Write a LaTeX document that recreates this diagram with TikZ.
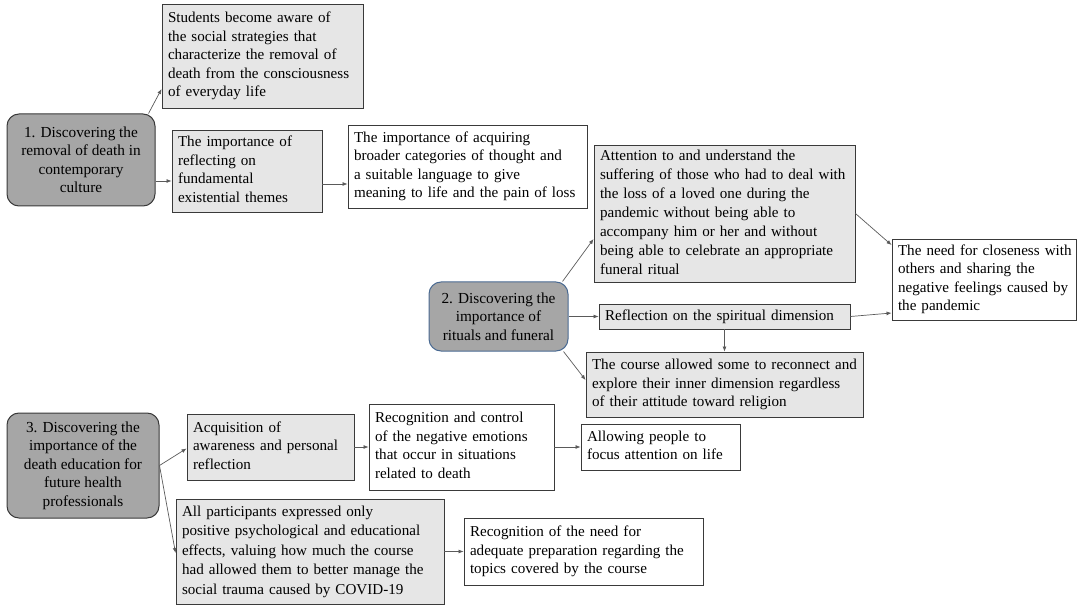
\documentclass[tikz,border=0pt]{standalone}
\usepackage{fontspec}
\setmainfont{Liberation Serif}
\usetikzlibrary{arrows.meta}
\definecolor{lightbox}{HTML}{E6E6E6}
\definecolor{darkbox}{HTML}{A6A6A6}
\definecolor{edgec}{HTML}{3A3A3A}
\definecolor{bluedge}{HTML}{4A6A92}
\definecolor{arrowc}{HTML}{5A5A5A}
\newcommand\lns[1]{{\let\\\tabularnewline\begin{tabular}{@{}l@{}}#1\end{tabular}}}
\begin{document}
\begin{tikzpicture}[x=1pt,y=-1pt,
  box/.style={draw=edgec, line width=0.9pt, inner xsep=6pt, inner ysep=0pt, font=\fontsize{15.1}{18.5}\selectfont},
  gbox/.style={box, fill=lightbox},
  wbox/.style={box, fill=white},
  topic/.style={draw=edgec, fill=darkbox, rounded corners=12pt, line width=1pt, align=center, inner sep=0pt, font=\fontsize{15.3}{18.5}\selectfont},
  conn/.style={draw=arrowc, line width=0.7pt, -{Latex[length=5pt,width=4pt]}}]
\useasboundingbox (0,0) rectangle (1084,612);

\node[gbox, minimum width=201pt, minimum height=104pt, text width=189pt] (A) at (262.5,56) {\lns{Students become aware of\\the social strategies that\\characterize the removal of\\death from the consciousness\\of everyday life}};
\node[topic, minimum width=148pt, minimum height=92pt] (n1) at (81,160) {1. Discovering the\\removal of death in\\contemporary\\culture};
\node[gbox, minimum width=150pt, minimum height=82pt, text width=138pt] (B) at (247,171) {\lns{The importance of\\reflecting on\\fundamental\\existential themes}};
\node[wbox, minimum width=239pt, minimum height=83pt, text width=227pt] (C) at (467.5,166.5) {\lns{The importance of acquiring\\broader categories of thought and\\a suitable language to give\\meaning to life and the pain of loss}};
\node[gbox, minimum width=261pt, minimum height=137pt, text width=249pt, font=\fontsize{15.1}{19.1}\selectfont] (D) at (724.5,213.5) {\lns{Attention to and understand the\\suffering of those who had to deal with\\the loss of a loved one during the\\pandemic without being able to\\accompany him or her and without\\being able to celebrate an appropriate\\funeral ritual}};
\node[topic, draw=bluedge, minimum width=139pt, minimum height=69pt] (n2) at (498.5,316.5) {2. Discovering the\\importance of\\rituals and funeral};
\node[gbox, minimum width=251pt, minimum height=25pt, text width=239pt] (E) at (724.5,316.5) {\lns{Reflection on the spiritual dimension}};
\node[gbox, minimum width=277pt, minimum height=65pt, text width=265pt] (F) at (724.5,384.5) {\lns{The course allowed some to reconnect and\\explore their inner dimension regardless\\of their attitude toward religion}};
\node[wbox, minimum width=184pt, minimum height=81pt, text width=172pt] (G) at (984,279.5) {\lns{The need for closeness with\\others and sharing the\\negative feelings caused by\\the pandemic}};
\node[topic, minimum width=152pt, minimum height=105pt] (n3) at (83,465.5) {3. Discovering the\\importance of the\\death education for\\future health\\professionals};
\node[gbox, minimum width=167pt, minimum height=66pt, text width=155pt] (H) at (270.5,447) {\lns{Acquisition of\\awareness and personal\\reflection}};
\node[wbox, minimum width=185pt, minimum height=86pt, text width=173pt] (I) at (461.5,447) {\lns{Recognition and control\\of the negative emotions\\that occur in situations\\related to death}};
\node[wbox, minimum width=159pt, minimum height=46pt, text width=147pt] (J) at (660.5,447) {\lns{Allowing people to\\focus attention on life}};
\node[gbox, minimum width=268pt, minimum height=105pt, text width=256pt, font=\fontsize{15.1}{19.4}\selectfont] (K) at (310,551.5) {\lns{All participants expressed only\\positive psychological and educational\\effects, valuing how much the course\\had allowed them to better manage the\\social trauma caused by COVID-19}};
\node[wbox, minimum width=239pt, minimum height=67pt, text width=227pt] (L) at (583.5,551.5) {\lns{Recognition of the need for\\adequate preparation regarding the\\topics covered by the course}};

\draw[conn] ([xshift=-7pt]n1.north east) -- ([yshift=-33pt]A.west);
\draw[conn] ([yshift=-21pt]n1.east) -- ([yshift=-10pt]B.west);
\draw[conn] ([yshift=-13pt]B.east) -- ([yshift=-17.5pt]C.west);
\draw[conn] ([xshift=-6pt]n2.north east) -- ([yshift=-25.5pt]D.west);
\draw[conn] (n2.east) -- (E.west);
\draw[conn] ([xshift=-5pt]n2.south east) -- ([yshift=4.5pt]F.west);
\draw[conn] (E.south) -- (F.north);
\draw[conn] (D.east) -- ([yshift=34.5pt]G.west);
\draw[conn] (E.east) -- ([yshift=-33.5pt]G.west);
\draw[conn] (n3.east) -- ([yshift=-1.5pt]H.west);
\draw[conn] (n3.east) -- ([yshift=-1.5pt]K.west);
\draw[conn] (H.east) -- (I.west);
\draw[conn] (I.east) -- (J.west);
\draw[conn] (K.east) -- (L.west);
\end{tikzpicture}
\end{document}
